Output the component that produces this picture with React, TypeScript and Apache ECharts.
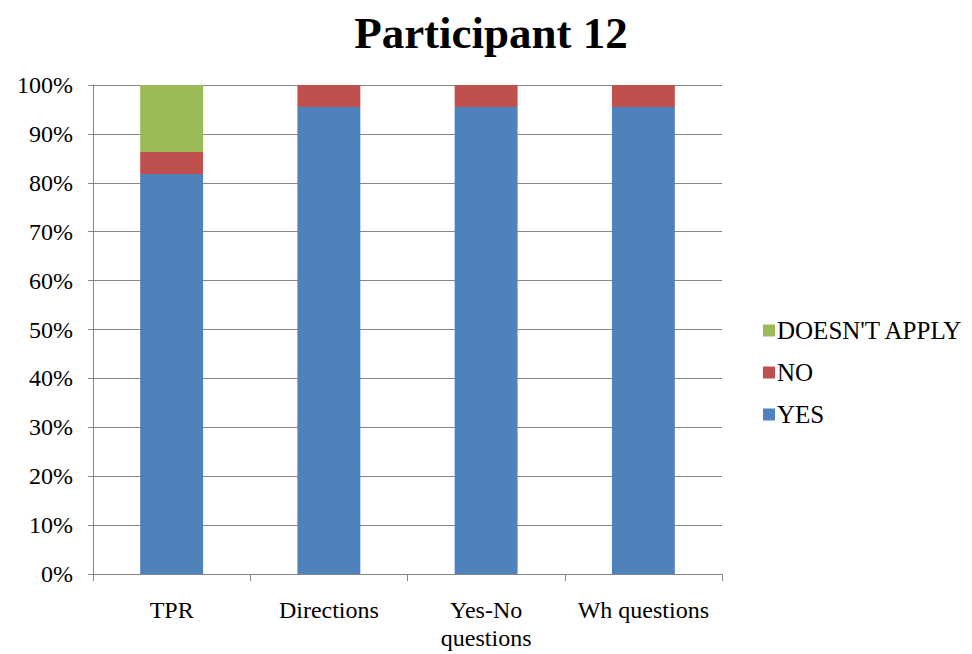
import React, { useEffect, useRef } from "react";
import * as echarts from "echarts";

const categories = ["TPR", "Directions", "Yes-No\nquestions", "Wh questions"];
const yesValues = [81.8, 95.5, 95.5, 95.5];
const noValues = [4.5, 4.5, 4.5, 4.5];
const doesntApplyValues = [13.7, 0, 0, 0];
const legendOrder = ["DOESN'T APPLY", "NO", "YES"];

const FONT = "'Liberation Serif', 'Times New Roman', serif";

export default function App() {
  const ref = useRef<HTMLDivElement>(null);
  useEffect(() => {
    const chart = echarts.init(ref.current!, null, { renderer: "svg" });
    chart.setOption({
      animation: false,
      backgroundColor: "#ffffff",
      title: {
        text: "Participant 12",
        left: 486,
        textAlign: "center",
        top: 5,
        textStyle: { fontFamily: FONT, fontSize: 45, fontWeight: "bold", color: "#000" },
      },
      legend: {
        data: legendOrder,
        orient: "vertical",
        left: 758,
        top: 313,
        itemWidth: 12,
        itemHeight: 12,
        itemGap: 17,
        icon: "rect",
        textStyle: { fontFamily: FONT, fontSize: 25, color: "#000", padding: [0, 0, 0, -3] },
      },
      grid: { left: 93, right: 250, top: 85, bottom: 80 },
      xAxis: {
        type: "category",
        data: categories,
        axisLine: { show: true, lineStyle: { color: "#868686", width: 1 } },
        axisTick: { show: true, length: 7, lineStyle: { color: "#868686" } },
        axisLabel: {
          fontFamily: FONT,
          fontSize: 24,
          color: "#000",
          margin: 22,
          lineHeight: 28,
          interval: 0,
        },
      },
      yAxis: {
        type: "value",
        min: 0,
        max: 100,
        interval: 10,
        axisLine: { show: true, lineStyle: { color: "#868686", width: 1 } },
        axisTick: { show: true, length: 5, lineStyle: { color: "#868686" } },
        splitLine: { show: true, lineStyle: { color: "#868686", width: 1 } },
        axisLabel: {
          fontFamily: FONT,
          fontSize: 24,
          color: "#000",
          margin: 20,
          formatter: (v: number) => v + "%",
        },
      },
      series: [
        {
          name: "YES",
          type: "bar",
          stack: "total",
          barWidth: "40%",
          data: yesValues,
          itemStyle: { color: "#4F81BD" },
        },
        {
          name: "NO",
          type: "bar",
          stack: "total",
          barWidth: "40%",
          data: noValues,
          itemStyle: { color: "#C0504D" },
        },
        {
          name: "DOESN'T APPLY",
          type: "bar",
          stack: "total",
          barWidth: "40%",
          data: doesntApplyValues,
          itemStyle: { color: "#9BBB59" },
        },
      ],
    });
    return () => chart.dispose();
  }, []);
  return (
    <div
      ref={ref}
      style={{ position: "absolute", left: 0, top: 0, width: 972, height: 654 }}
    />
  );
}
